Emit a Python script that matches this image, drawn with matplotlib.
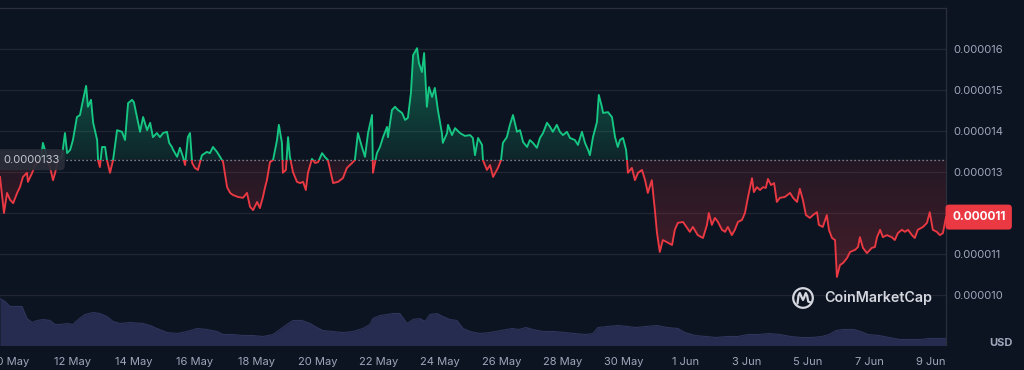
import matplotlib
matplotlib.use("Agg")
import matplotlib.pyplot as plt
import numpy as np
from matplotlib.patches import Rectangle, Circle
from matplotlib.transforms import blended_transform_factory

# ---------------- data ----------------
# time in days since 10 May 00:00, price in 1e-6 USD
days = [-0.36, -0.33, -0.23, -0.13, -0.03, 0.07, 0.20, 0.29, 0.39, 0.52, 0.55, 0.69, 0.78, 0.88, 0.98,
        1.04, 1.17, 1.27, 1.37, 1.44, 1.53, 1.66, 1.76, 1.83, 1.93, 2.02, 2.15, 2.25, 2.35, 2.45,
        2.51, 2.61, 2.68, 2.81, 2.84, 2.90, 2.97, 3.07, 3.13, 3.23, 3.33, 3.46, 3.62, 3.72, 3.82,
        3.95, 4.01, 4.11, 4.21, 4.31, 4.44, 4.54, 4.63, 4.76, 4.86, 4.96, 5.09, 5.16, 5.25, 5.29,
        5.42, 5.51, 5.61, 5.68, 5.77, 5.84, 5.91, 6.00, 6.10, 6.23, 6.39, 6.49, 6.59, 6.72, 6.82,
        6.92, 7.05, 7.15, 7.24, 7.41, 7.57, 7.70, 7.80, 7.90, 8.03, 8.12, 8.22, 8.29, 8.35, 8.45,
        8.55, 8.68, 8.74, 8.84, 8.87, 8.97, 9.04, 9.10, 9.20, 9.33, 9.43, 9.53, 9.62, 9.69, 9.82,
        9.92, 10.02, 10.15, 10.24, 10.34, 10.51, 10.67, 10.83, 10.96, 11.13, 11.22, 11.32, 11.45, 11.55, 11.65,
        11.78, 11.81, 11.94, 12.04, 12.14, 12.27, 12.30, 12.43, 12.53, 12.63, 12.76, 12.86, 12.95, 13.05, 13.12,
        13.25, 13.31, 13.41, 13.48, 13.57, 13.64, 13.74, 13.83, 13.93, 14.06, 14.09, 14.23, 14.26, 14.39, 14.49,
        14.65, 14.81, 14.98, 15.07, 15.14, 15.24, 15.37, 15.40, 15.53, 15.63, 15.73, 15.89, 15.99, 16.05, 16.18,
        16.28, 16.38, 16.51, 16.61, 16.71, 16.84, 16.93, 17.03, 17.16, 17.26, 17.36, 17.49, 17.59, 17.68, 17.81,
        17.91, 18.01, 18.14, 18.24, 18.40, 18.50, 18.63, 18.73, 18.83, 18.89, 18.99, 19.12, 19.18, 19.28, 19.32,
        19.48, 19.61, 19.71, 19.80, 19.87, 19.97, 20.07, 20.10, 20.13, 20.26, 20.36, 20.46, 20.59, 20.69, 20.78,
        20.91, 21.01, 21.08, 21.17, 21.27, 21.40, 21.57, 21.66, 21.76, 21.93, 22.15, 22.25, 22.41, 22.58, 22.71,
        22.77, 22.87, 22.97, 23.07, 23.20, 23.30, 23.39, 23.52, 23.62, 23.72, 23.85, 23.95, 24.05, 24.18, 24.24,
        24.34, 24.44, 24.54, 24.63, 24.70, 24.80, 24.90, 24.99, 25.09, 25.25, 25.42, 25.52, 25.65, 25.74, 25.84,
        25.94, 26.07, 26.17, 26.30, 26.36, 26.49, 26.62, 26.69, 26.79, 26.89, 26.95, 27.05, 27.15, 27.28, 27.38,
        27.54, 27.64, 27.70, 27.80, 27.93, 28.09, 28.19, 28.26, 28.36, 28.45, 28.58, 28.74, 28.84, 28.94, 29.07,
        29.17, 29.27, 29.40, 29.49, 29.59, 29.76, 29.89, 29.98, 30.08, 30.21, 30.31, 30.41, 30.51]
price = [12.88, 12.68, 12.00, 12.49, 12.32, 12.24, 12.49, 12.63, 12.88, 12.98, 12.76, 12.98, 13.17, 13.22, 13.34,
         13.71, 13.37, 13.12, 12.80, 12.98, 13.29, 13.37, 13.95, 13.46, 13.54, 13.78, 14.34, 14.39, 14.76, 15.10,
         14.59, 14.76, 14.20, 13.78, 13.29, 13.12, 13.61, 13.61, 13.29, 12.98, 13.29, 14.02, 13.98, 13.78, 14.68,
         14.76, 14.70, 14.34, 13.98, 14.34, 14.02, 14.20, 13.85, 13.95, 13.85, 13.95, 13.98, 13.71, 13.61, 13.54,
         13.37, 13.59, 13.37, 13.17, 13.85, 13.95, 13.22, 13.10, 13.05, 13.41, 13.49, 13.46, 13.61, 13.49, 13.37,
         13.24, 12.63, 12.49, 12.44, 12.39, 12.37, 12.49, 12.15, 12.07, 12.27, 12.12, 12.39, 12.63, 12.80, 13.24,
         13.29, 13.78, 14.15, 13.71, 12.98, 13.05, 13.85, 13.37, 13.00, 12.76, 12.73, 12.76, 12.56, 12.98, 13.32,
         13.22, 13.24, 13.46, 13.37, 13.29, 12.73, 12.76, 12.85, 13.10, 13.22, 13.29, 13.95, 13.61, 13.37, 13.95,
         14.39, 12.98, 13.46, 13.61, 13.85, 14.10, 13.85, 14.51, 14.59, 14.51, 14.44, 14.27, 14.32, 14.93, 15.85,
         16.02, 15.66, 15.44, 15.90, 14.59, 15.07, 14.83, 15.05, 14.51, 13.95, 13.71, 13.95, 14.15, 13.90, 14.07,
         13.95, 13.88, 13.90, 13.83, 13.41, 13.83, 13.66, 13.29, 13.05, 13.17, 12.88, 13.10, 13.29, 13.71, 13.85,
         14.15, 14.39, 13.98, 14.02, 13.73, 13.61, 13.78, 13.71, 13.59, 13.83, 13.95, 14.20, 14.10, 13.98, 14.15,
         13.98, 13.90, 13.98, 13.83, 13.78, 13.66, 13.98, 13.71, 13.54, 13.41, 13.85, 14.22, 14.88, 14.59, 14.44,
         14.46, 14.34, 13.85, 13.61, 13.78, 13.83, 13.54, 13.29, 12.98, 13.10, 12.80, 12.98, 13.05, 12.80, 12.49,
         12.80, 12.07, 11.51, 11.05, 11.34, 11.29, 11.22, 11.59, 11.76, 11.78, 11.54, 11.66, 11.46, 11.39, 11.71,
         12.00, 11.71, 11.88, 11.78, 11.59, 11.54, 11.66, 11.46, 11.59, 11.78, 11.83, 12.00, 12.39, 12.85, 12.51,
         12.63, 12.56, 12.63, 12.61, 12.83, 12.68, 12.73, 12.27, 12.37, 12.39, 12.49, 12.37, 12.27, 12.59, 12.32,
         11.95, 11.88, 11.95, 12.02, 11.71, 11.66, 11.95, 11.59, 11.39, 11.34, 10.44, 10.73, 10.78, 10.90, 11.05,
         11.10, 11.17, 11.41, 11.15, 11.02, 11.15, 11.17, 11.41, 11.59, 11.41, 11.46, 11.41, 11.34, 11.51, 11.59,
         11.54, 11.59, 11.46, 11.39, 11.59, 11.66, 11.76, 12.02, 11.59, 11.54, 11.46, 11.51, 11.90]

# trading volume (relative units)
vol_days = [-0.36, -0.20, -0.03, 0.36, 0.52, 0.69, 0.85, 1.04, 1.27, 1.44, 1.60, 1.83, 2.02, 2.19, 2.41,
            2.68, 2.90, 3.13, 3.33, 3.56, 3.88, 4.31, 4.54, 4.76, 5.09, 5.42, 5.74, 6.07, 6.39, 6.72,
            6.92, 7.24, 7.57, 7.90, 8.22, 8.55, 8.78, 9.00, 9.20, 9.49, 9.76, 9.98, 10.18, 10.51, 10.83,
            11.16, 11.48, 11.71, 11.81, 12.04, 12.27, 12.46, 12.69, 12.92, 13.12, 13.34, 13.51, 13.67, 13.90, 14.09,
            14.32, 14.55, 14.75, 14.98, 15.30, 15.63, 15.99, 16.35, 16.57, 16.80, 17.03, 17.36, 17.72, 18.08, 18.40,
            18.76, 18.99, 19.15, 19.45, 19.80, 20.13, 20.36, 20.72, 21.08, 21.40, 21.76, 21.99, 22.32, 22.68, 23.00,
            23.36, 23.72, 24.05, 24.40, 24.73, 25.09, 25.45, 25.78, 26.13, 26.46, 26.69, 26.92, 27.15, 27.50, 27.73,
            27.96, 28.32, 28.65, 29.01, 29.36, 29.69, 29.92, 30.15, 30.51]
volume = [47, 44, 39, 39, 27, 23, 25, 26, 25, 21, 21, 22, 21, 26, 31,
          33, 32, 29, 24, 22, 23, 22, 20, 17, 13, 12, 14, 17, 16, 14,
          11, 11, 10, 10, 9, 11, 16, 21, 25, 25, 22, 18, 15, 14, 13,
          14, 17, 21, 27, 30, 31, 32, 32, 22, 26, 27, 24, 31, 32, 29,
          26, 25, 17, 14, 12, 13, 15, 17, 16, 18, 16, 14, 14, 13, 12,
          11, 12, 18, 19, 20, 19, 18, 19, 20, 18, 17, 13, 10, 9, 8,
          9, 9, 11, 11, 12, 11, 9, 8, 8, 9, 11, 15, 16, 16, 14,
          11, 10, 8, 6, 6, 6, 7, 7, 7]

baseline = 13.3          # reference (open) price, 1e-6 USD
baseline_label = "0.0000133"
last_label = "0.000011"
price_ticks = [10, 11, 12, 13, 14, 15, 16]
price_tick_labels = ["0.000010", "0.000011", "", "0.000013", "0.000014", "0.000015", "0.000016"]
tick_days = [0, 2, 4, 6, 8, 10, 12, 14, 16, 18, 20, 22, 24, 26, 28, 30]
tick_labels = ["10 May", "12 May", "14 May", "16 May", "18 May", "20 May", "22 May", "24 May",
               "26 May", "28 May", "30 May", "1 Jun", "3 Jun", "5 Jun", "7 Jun", "9 Jun"]

# ---------------- style ----------------
BG = "#0d1421"
GREEN = "#16c784"
RED = "#ea3943"
GRID = "#222632"
TXT = "#a1a7bb"
plt.rcParams['font.family'] = ['Inter', 'DejaVu Sans']

W, H = 1024, 370
fig = plt.figure(figsize=(W / 100, H / 100), dpi=100, facecolor=BG)
rect = [0, 1 - 345.5 / H, 946 / W, (345.5 - 8) / H]

axv = fig.add_axes(rect, zorder=1)
ax = fig.add_axes(rect, zorder=2)
ax.patch.set_visible(False)
axv.set_facecolor(BG)

xmin, xmax = days[0], days[-1]
ymin, ymax = 8.768, 17.0

# volume
axv.fill_between(vol_days, volume, 0, color="#262c4f", lw=0)
axv.plot(vol_days, volume, color="#2e355b", lw=0.8)
axv.set_xlim(xmin, xmax)
axv.set_ylim(0, 337.5)
axv.axis("off")

# gradient fills clipped to area between price line and baseline
poly = ax.fill_between(days, price, baseline, facecolor="none", edgecolor="none")
clip = poly.get_paths()[0]
pmax, pmin = max(price), min(price)


def grad(rgb, a_bottom, a_top, y0, y1):
    n = 256
    arr = np.zeros((n, 1, 4))
    arr[..., 0:3] = matplotlib.colors.to_rgb(rgb)
    arr[:, 0, 3] = np.linspace(a_bottom, a_top, n)
    im = ax.imshow(arr, extent=[xmin, xmax, y0, y1], origin="lower", aspect="auto",
                   interpolation="bilinear", zorder=2)
    im.set_clip_path(clip, ax.transData)


grad(GREEN, 0.10, 0.42, baseline, pmax)
grad(RED, 0.26, 0.10, pmin, baseline)

# line split into green/red by baseline
lg, = ax.plot(days, price, color=GREEN, lw=1.35, zorder=4, solid_joinstyle="round")
lg.set_clip_path(Rectangle((xmin - 1, baseline), xmax - xmin + 2, 20, transform=ax.transData))
lr, = ax.plot(days, price, color=RED, lw=1.35, zorder=4, solid_joinstyle="round")
lr.set_clip_path(Rectangle((xmin - 1, 0), xmax - xmin + 2, baseline, transform=ax.transData))

# dotted baseline
ax.axhline(baseline, xmin=62 / 946, xmax=1, color="#9aa0ad", lw=0.9, ls=(0, (1, 2.2)), zorder=3)

ax.set_xlim(xmin, xmax)
ax.set_ylim(ymin, ymax)

# axes styling
ax.set_yticks(price_ticks)
ax.set_yticklabels(price_tick_labels)
ax.yaxis.tick_right()
ax.grid(axis="y", color=GRID, lw=0.9, zorder=0)
ax.set_xticks(tick_days)
ax.set_xticklabels(tick_labels)
ax.tick_params(axis="y", length=0, labelsize=8, labelcolor=TXT, pad=5)
ax.tick_params(axis="x", length=0, labelsize=8, labelcolor=TXT, pad=8)
for s in ("left", "bottom"):
    ax.spines[s].set_visible(False)
for s in ("top", "right"):
    ax.spines[s].set_color("#2b2f3b")
    ax.spines[s].set_linewidth(0.9)

blend = blended_transform_factory(ax.transAxes, ax.transData)
ax.text(1.0 + 6 / 946, price[-1], last_label, transform=blend, ha="left", va="center",
        color="white", fontsize=8.5, fontweight="bold", zorder=10, clip_on=False,
        bbox=dict(boxstyle="round,pad=0.55,rounding_size=0.3", fc=RED, ec="none"))

ax.text(3 / 946, baseline, baseline_label, transform=blend, ha="left", va="center",
        color="#c3c7d1", fontsize=8, zorder=10,
        bbox=dict(boxstyle="round,pad=0.5,rounding_size=0.4", fc="#2a2e39", ec="none", alpha=0.92))

# USD label
fig.text(1001 / W, 1 - 343 / H, "USD", ha="center", va="center", color=TXT,
         fontsize=8, fontweight="bold")

# CoinMarketCap watermark
fig.text(824 / W, 1 - 298 / H, "CoinMarketCap", ha="left", va="center", color="#d4d7de",
         fontsize=10.3, fontweight="semibold")
lax = fig.add_axes([(803 - 14) / W, 1 - (298 + 14) / H, 28 / W, 28 / H], zorder=5)
lax.set_xlim(-14, 14)
lax.set_ylim(-14, 14)
lax.axis("off")
lax.add_patch(Circle((0, 0), 9.8, fill=False, ec="#d4d7de", lw=1.6))
lax.plot([-5.5, -4.5, -3.2, -1.5, 0, 1.3, 2.8, 4.2, 5.2, 7.5],
         [-5.5, 2.5, 5, 1, -2, 1, 5, 2, -3.5, -4.5], color="#d4d7de", lw=1.6,
         solid_capstyle="round", solid_joinstyle="round")

fig.savefig("out.png", dpi=100, facecolor=BG)
